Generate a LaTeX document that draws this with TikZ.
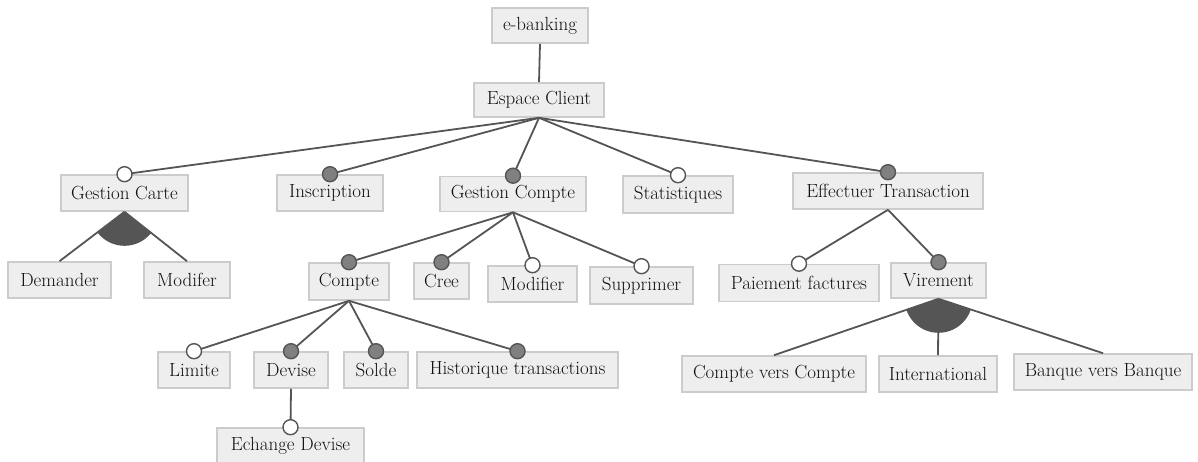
\documentclass[tikz,border=0pt]{standalone}
\definecolor{boxfill}{HTML}{EEEEEE}
\definecolor{boxline}{HTML}{CCCCCC}
\definecolor{edge}{HTML}{555555}
\definecolor{mandfill}{HTML}{808080}
\definecolor{txt}{HTML}{111111}
\tikzset{
  feat/.style={draw=boxline, fill=boxfill, line width=1.6pt, inner sep=0pt,
    text=txt, font=\fontsize{19}{21}\selectfont, anchor=center},
  link/.style={draw=edge, line width=1.8pt},
  mand/.style={draw=edge, fill=mandfill, line width=1.4pt},
  opt/.style={draw=edge, fill=white, line width=1.4pt},
  grp/.style={fill=edge},
}
\newcommand{\feat}[5]{\node[feat, minimum width=#3pt, minimum height=#4pt] (#1) at (#2) {#5};}
\begin{document}
\begin{tikzpicture}[x=1pt, y=-1pt]
\clip (0,0) rectangle (1198,461);
\fill[white] (0,0) rectangle (1198,461);

% features
\feat{ebank}{540,25.5}{96}{35}{e-banking}
\feat{espace}{539,100}{130}{34}{Espace Client}
\feat{gcarte}{124.5,193}{127}{36}{Gestion Carte}
\feat{inscr}{330,193}{106}{36}{Inscription}
\feat{gcompte}{513,194}{146}{35}{Gestion Compte}
\feat{stats}{678,194.5}{110}{37}{Statistiques}
\feat{effect}{888,191}{190}{36}{Effectuer Transaction}
\feat{demander}{59.5,280}{103}{36}{Demander}
\feat{modifer}{187,280}{86}{36}{Modifer}
\feat{compte}{349,281.5}{80}{37}{Compte}
\feat{cree}{441.5,281}{55}{36}{Cree}
\feat{modifier}{532.5,284}{89}{36}{Modifier}
\feat{suppr}{641.5,285.5}{103}{37}{Supprimer}
\feat{paiement}{799,283}{160}{37}{Paiement factures}
\feat{virement}{938.5,280.5}{95}{35}{Virement}
\feat{limite}{194,370}{72}{36}{Limite}
\feat{devise}{291,370}{74}{36}{Devise}
\feat{solde}{376,370}{64}{36}{Solde}
\feat{histo}{517.5,370}{201}{36}{Historique transactions}
\feat{echange}{290.5,446}{147}{36}{Echange Devise}
\feat{cvc}{774,374}{184}{36}{Compte vers Compte}
\feat{intl}{938,374}{118}{36}{International}
\feat{bvb}{1103,372}{178}{36}{Banque vers Banque}

% plain link from the root
\draw[link] (ebank.south) -- (espace.north);

% solitary links
\foreach \p/\c in {espace/gcarte, espace/inscr, espace/gcompte, espace/stats, espace/effect,
  gcompte/compte, gcompte/cree, gcompte/modifier, gcompte/suppr,
  compte/limite, compte/devise, compte/solde, compte/histo,
  devise/echange, effect/paiement, effect/virement}
  \draw[link] (\p.south) -- (\c.north);

% grouped links
\draw[link] (gcarte.south) -- (demander.north);
\draw[link] (gcarte.south) -- (modifer.north);
\draw[link] (virement.south) -- (cvc.north);
\draw[link] (virement.south) -- (intl.north);
\draw[link] (virement.south) -- (bvb.north);

% or-group sectors
\begin{scope}
  \clip (gcarte.south) -- (demander.north) -- (modifer.north) -- cycle;
  \fill[grp] (gcarte.south) circle (34);
\end{scope}
\begin{scope}
  \clip (virement.south) -- (cvc.north) -- (bvb.north) -- cycle;
  \fill[grp] (virement.south) circle (34);
\end{scope}

% mandatory markers
\foreach \c in {inscr, gcompte, effect, compte, cree, virement, devise, solde, histo}
  \draw[mand] (\c.north) circle (7.5);
% optional markers
\foreach \c in {gcarte, stats, modifier, suppr, paiement, limite, echange}
  \draw[opt] (\c.north) circle (7.5);
\end{tikzpicture}
\end{document}
